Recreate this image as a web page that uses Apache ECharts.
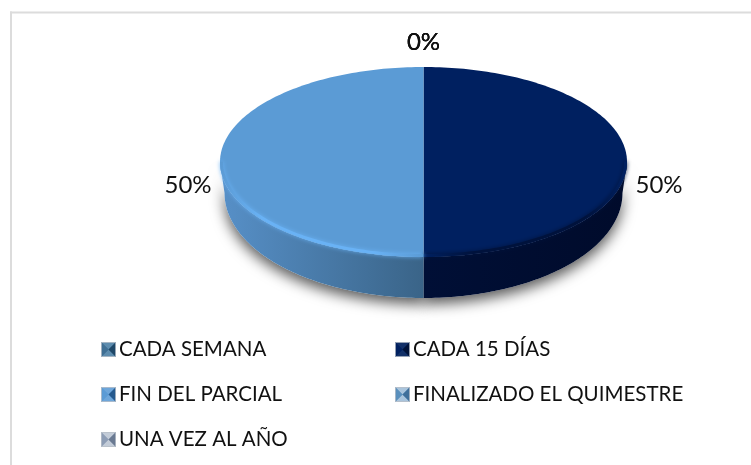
<!DOCTYPE html>
<html>
<head>
<meta charset="utf-8">
<style>html,body{margin:0;padding:0;background:#fff}#c{width:751px;height:465px}</style>
<script src="https://cdn.jsdelivr.net/npm/echarts@6/dist/echarts.min.js"></script>
</head>
<body>
<div id="c"></div>
<script>
const categories = ['CADA SEMANA', 'CADA 15 DÍAS', 'FIN DEL PARCIAL', 'FINALIZADO EL QUIMESTRE', 'UNA VEZ AL AÑO'];
const values = [0, 50, 50, 0, 0];
const labels = ['0%', '50%', '50%', '0%', '0%'];
const topColors = ['#3f6f94', '#002060', '#5b9bd5', '#5a90bd', '#8d9db5'];
const rimColors = ['#3f6f94', '#00123c', '#69b2f5', '#5a90bd', '#8d9db5'];
const sideOuter = ['#3f6f94', '#000b2b', '#5790c8', '#5a90bd', '#8d9db5'];
const sideCenter = ['#3f6f94', '#000f36', '#3a6488', '#5a90bd', '#8d9db5'];
const iconDark = ['#1f4868', '#001238', '#24598e', '#3f6f9a', '#6a7a92'];
const iconLight = ['#5d8cae', '#123068', '#6ea6da', '#a9c4dc', '#c3ccd8'];
const leftColumn = ['CADA SEMANA', 'FIN DEL PARCIAL', 'UNA VEZ AL AÑO'];
const rightColumn = ['CADA 15 DÍAS', 'FINALIZADO EL QUIMESTRE'];

const FONT = 'Lato, Carlito, "Open Sans", sans-serif';
const TOP_FACE = { cx: 423.5, cy: 162, rx: 203.5, ry: 95 };
const BASE = { cx: 423.5, cy: 193, rx: 199, ry: 105 };
const RIM = { cx: 423.5, cy: 161.5, rx: 202, ry: 94 };
const total = values.reduce((a, b) => a + b, 0);

function angleAt(i, vals) {
  let s = 0;
  for (let k = 0; k < i; k++) s += vals[k];
  return s / total * Math.PI * 2;
}
function pt(a, e) {
  return [e.cx + e.rx * Math.sin(a), e.cy - e.ry * Math.cos(a)];
}
function arc(a0, a1, e) {
  const n = Math.max(2, Math.ceil((a1 - a0) / 0.02));
  const out = [];
  for (let i = 0; i <= n; i++) out.push(pt(a0 + (a1 - a0) * i / n, e));
  return out;
}
function icon(i) {
  const d = iconDark[i], l = iconLight[i], m = topColors[i];
  const svg = `<svg xmlns="http://www.w3.org/2000/svg" width="15" height="15" viewBox="0 0 15 15">` +
    `<rect width="15" height="15" fill="${m}"/>` +
    `<polygon points="0,0 15,0 7.5,7.5" fill="${l}"/>` +
    `<polygon points="0,15 15,15 7.5,7.5" fill="${l}"/>` +
    `<polygon points="0,0 0,15 7.5,7.5" fill="${m}"/>` +
    `<polygon points="15,0 15,15 7.5,7.5" fill="${d}"/>` +
    `<rect x="0.5" y="0.5" width="14" height="14" fill="none" stroke="#b8bfc8" stroke-opacity="0.8"/></svg>`;
  return 'image://data:image/svg+xml,' + encodeURIComponent(svg);
}

const series = categories.map((name, idx) => ({
  name,
  type: 'custom',
  coordinateSystem: 'none',
  silent: true,
  animation: false,
  itemStyle: { color: topColors[idx] },
  data: [[values[idx]]],
  renderItem: function (params, api) {
    const v = api.value(0);
    const a0 = angleAt(idx, values);
    const a1 = a0 + v / total * Math.PI * 2;
    const mid = (a0 + a1) / 2;
    const children = [];
    if (v > 0) {
      const top = [[TOP_FACE.cx, TOP_FACE.cy]].concat(arc(a0, a1, TOP_FACE));
      const f0 = Math.max(a0, Math.PI / 2), f1 = Math.min(a1, Math.PI * 1.5);
      if (f1 > f0) {
        const side = arc(f0, f1, TOP_FACE).concat(arc(f0, f1, BASE).reverse());
        const xs = side.map(p => p[0]);
        const minX = Math.min.apply(null, xs), maxX = Math.max.apply(null, xs);
        const isLeft = mid > Math.PI;
        children.push({
          type: 'polygon', z2: 1, shape: { points: side },
          style: { fill: '#fff', shadowColor: 'rgba(0,0,0,0.65)', shadowBlur: 14, shadowOffsetX: 0, shadowOffsetY: 6 }
        });
        children.push({
          type: 'polygon', z2: 5, shape: { points: side },
          style: {
            fill: {
              type: 'linear', x: minX, y: 0, x2: maxX, y2: 0, global: true,
              colorStops: isLeft
                ? [{ offset: 0, color: sideOuter[idx] }, { offset: 1, color: sideCenter[idx] }]
                : [{ offset: 0, color: sideCenter[idx] }, { offset: 1, color: sideOuter[idx] }]
            }
          }
        });
      }
      children.push({ type: 'polygon', z2: 6, shape: { points: top }, style: { fill: topColors[idx] } });
      if (f1 > f0) {
        const rimPts = arc(f0, f1, RIM);
        const xs = rimPts.map(p => p[0]);
        const minX = Math.min.apply(null, xs), maxX = Math.max.apply(null, xs);
        const isLeft = mid > Math.PI;
        const edge = topColors[idx], glow = rimColors[idx];
        children.push({
          type: 'polyline', z2: 7, shape: { points: rimPts },
          style: {
            fill: null, lineWidth: 3, shadowColor: glow, shadowBlur: 4,
            stroke: {
              type: 'linear', x: minX, y: 0, x2: maxX, y2: 0, global: true,
              colorStops: isLeft
                ? [{ offset: 0, color: edge }, { offset: 0.2, color: glow }, { offset: 0.75, color: glow }, { offset: 1, color: edge }]
                : [{ offset: 0, color: edge }, { offset: 0.25, color: glow }, { offset: 0.8, color: glow }, { offset: 1, color: edge }]
            }
          }
        });
      }
    }
    const s = Math.sin(mid), c = Math.cos(mid);
    children.push({
      type: 'text', z2: 10,
      style: {
        text: labels[idx],
        x: TOP_FACE.cx + (TOP_FACE.rx + 32) * s,
        y: TOP_FACE.cy + 23 * Math.abs(s) - (TOP_FACE.ry + 25) * c,
        font: '24px ' + FONT,
        fill: '#111',
        align: 'center',
        verticalAlign: 'middle'
      }
    });
    return { type: 'group', children };
  }
}));

function legendFor(names, left) {
  return {
    orient: 'vertical',
    left,
    top: 339,
    itemWidth: 15,
    itemHeight: 15,
    itemGap: 24,
    padding: 0,
    selectedMode: false,
    textStyle: { fontFamily: FONT, fontSize: 20.5, color: '#111', padding: [0, 0, 0, -2] },
    data: names.map(n => ({ name: n, icon: icon(categories.indexOf(n)) }))
  };
}

const chart = echarts.init(document.getElementById('c'), null, { renderer: 'canvas' });
chart.setOption({
  animation: false,
  backgroundColor: '#fff',
  legend: [legendFor(leftColumn, 101), legendFor(rightColumn, 395)],
  graphic: [
    { type: 'rect', silent: true, shape: { x: 10, y: 11.5, width: 741, height: 2 }, style: { fill: '#dcdcdc' } },
    { type: 'rect', silent: true, shape: { x: 10, y: 11.5, width: 2, height: 453.5 }, style: { fill: '#dcdcdc' } }
  ],
  series
});
</script>
</body>
</html>
